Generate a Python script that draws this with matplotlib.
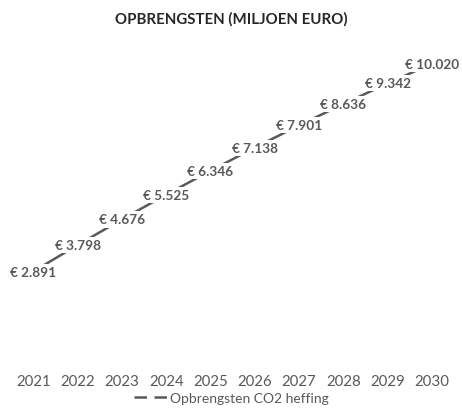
import matplotlib
matplotlib.use("Agg")
import matplotlib.pyplot as plt
from matplotlib.lines import Line2D

jaren = ["2021", "2022", "2023", "2024", "2025", "2026", "2027", "2028", "2029", "2030"]
opbrengsten = [2891, 3798, 4676, 5525, 6346, 7138, 7901, 8636, 9342, 10020]
labels = ["€ 2.891", "€ 3.798", "€ 4.676", "€ 5.525", "€ 6.346",
          "€ 7.138", "€ 7.901", "€ 8.636", "€ 9.342", "€ 10.020"]
reeks = "Opbrengsten CO2 heffing"
titel = "OPBRENGSTEN (MILJOEN EURO)"

plt.rcParams['font.family'] = ['Lato', 'DejaVu Sans']
grijs = '#595959'

fig = plt.figure(figsize=(4.62, 4.14), dpi=100)
ax = fig.add_axes([0.024, 0.138, 0.959, 0.775])

x = list(range(len(jaren)))
ax.plot(x, opbrengsten, color=grijs, linewidth=1.8, zorder=2)

for xi, yi, lab in zip(x, opbrengsten, labels):
    ax.text(xi, yi, lab, ha='center', va='center', fontsize=9.8, fontweight='bold',
            color=grijs, zorder=3,
            bbox=dict(facecolor='white', edgecolor='none', pad=1.5))

ax.set_xlim(-0.5, len(jaren) - 0.5)
ax.set_ylim(0, 11000)
ax.set_xticks(x)
ax.set_xticklabels(jaren, fontsize=10.8, color=grijs)
ax.set_yticks([])
ax.tick_params(axis='x', length=0, pad=13)
for s in ax.spines.values():
    s.set_visible(False)

fig.text(0.5, 0.954, titel, ha='center', va='center', fontsize=10.8,
         fontweight='bold', color='#262626')

handle = Line2D([], [], color=grijs, linewidth=1.8, linestyle=(0, (5, 3)))
fig.legend([handle], [reeks], loc='center', bbox_to_anchor=(0.5, 0.037),
           frameon=False, fontsize=10, labelcolor=grijs, handlelength=2.4,
           handletextpad=0.2)

fig.savefig("out.png", dpi=100)
